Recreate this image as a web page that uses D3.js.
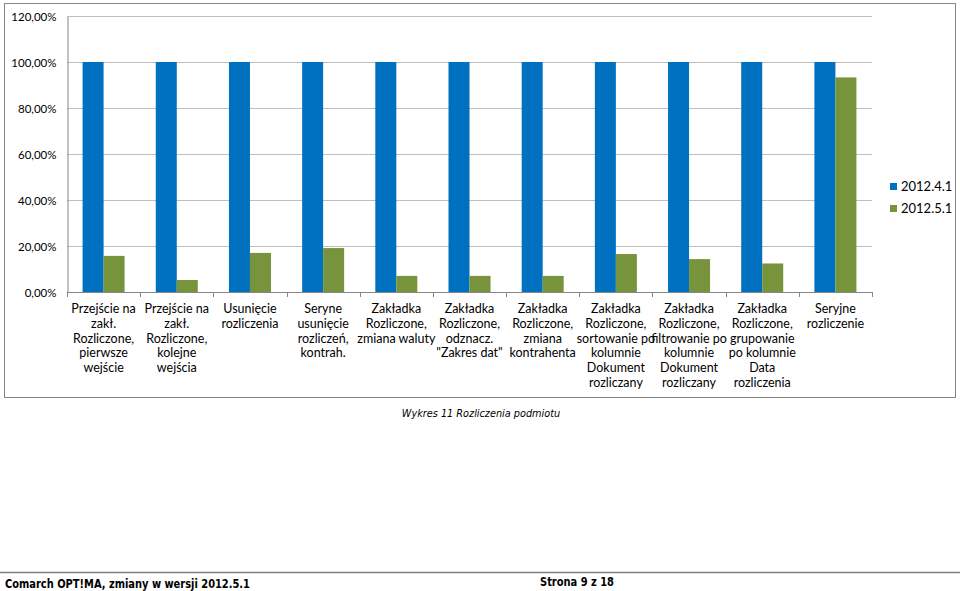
<!DOCTYPE html>
<html><head><meta charset="utf-8">
<script src="https://cdn.jsdelivr.net/npm/d3@7"></script>
<style>body{margin:0;background:#fff}svg{display:block}</style>
</head><body>
<svg id="c" width="960" height="591"></svg>
<script>
const categories = [
  "Przejście na\nzakł.\nRozliczone,\npierwsze\nwejście",
  "Przejście na\nzakł.\nRozliczone,\nkolejne\nwejścia",
  "Usunięcie\nrozliczenia",
  "Seryne\nusunięcie\nrozliczeń,\nkontrah.",
  "Zakładka\nRozliczone,\nzmiana waluty",
  "Zakładka\nRozliczone,\nodznacz.\n\"Zakres dat\"",
  "Zakładka\nRozliczone,\nzmiana\nkontrahenta",
  "Zakładka\nRozliczone,\nsortowanie po\nkolumnie\nDokument\nrozliczany",
  "Zakładka\nRozliczone,\nfiltrowanie po\nkolumnie\nDokument\nrozliczany",
  "Zakładka\nRozliczone,\ngrupowanie\npo kolumnie\nData\nrozliczenia",
  "Seryjne\nrozliczenie"
];
const seriesNames = ["2012.4.1", "2012.5.1"];
const values2012_4_1 = [100, 100, 100, 100, 100, 100, 100, 100, 100, 100, 100];
const values2012_5_1 = [15.7, 5.2, 17.0, 19.1, 7.0, 7.0, 7.0, 16.5, 14.3, 12.4, 93.3];
const yTicks = [0, 20, 40, 60, 80, 100, 120];
const colors = ["#0070C0", "#77933C"];

const svg = d3.select("#c");
const font = "Lato, 'Open Sans', sans-serif";
const docFont = "'DejaVu Sans Condensed', 'DejaVu Sans', sans-serif";

// chart frame
svg.append("rect").attr("x", 4.5).attr("y", 3.5).attr("width", 951).attr("height", 394)
  .attr("fill", "#fff").attr("stroke", "#868686").attr("stroke-width", 1);

const L = 67, R = 872, T = 16, B = 292;
const x = d3.scaleBand().domain(d3.range(categories.length)).range([L, R]).paddingInner(0).paddingOuter(0);
const inner = d3.scaleBand().domain([0, 1]).range([0, 42]);
const y = d3.scaleLinear().domain([0, 120]).range([B, T]);

// gridlines
svg.append("g").selectAll("line").data(yTicks.filter(d => d > 0)).join("line")
  .attr("x1", L).attr("x2", R).attr("y1", d => Math.round(y(d)) + 0.5).attr("y2", d => Math.round(y(d)) + 0.5)
  .attr("stroke", "#bfbfbf").attr("stroke-width", 1);

// y axis
const yAxis = d3.axisLeft(y).tickValues(yTicks).tickSize(0).tickPadding(11)
  .tickFormat(d => d3.format(".2f")(d).replace(".", ",") + "%");
const gy = svg.append("g").attr("transform", `translate(${L + 0.5},0.5)`).call(yAxis);
gy.select(".domain").attr("stroke", "#868686");
gy.selectAll("text").attr("font-family", font).attr("font-size", 11.5).attr("fill", "#000");

// bars
const series = [values2012_4_1, values2012_5_1];
series.forEach((vals, si) => {
  svg.append("g").selectAll("rect").data(vals).join("rect")
    .attr("x", (d, i) => x(i) + (x.bandwidth() - 42) / 2 + inner(si))
    .attr("width", inner.bandwidth())
    .attr("y", d => y(d)).attr("height", d => B - y(d))
    .attr("fill", colors[si]);
});

// x axis
svg.append("line").attr("x1", L).attr("x2", R).attr("y1", B + 0.5).attr("y2", B + 0.5).attr("stroke", "#868686");
svg.append("g").selectAll("line").data(d3.range(categories.length + 1)).join("line")
  .attr("x1", i => Math.round(L + i * x.bandwidth()) + 0.5).attr("x2", i => Math.round(L + i * x.bandwidth()) + 0.5)
  .attr("y1", B).attr("y2", B + 5).attr("stroke", "#868686");

const labels = svg.append("g").selectAll("text").data(categories).join("text")
  .attr("font-family", font).attr("font-size", 12.5).attr("fill", "#000").attr("text-anchor", "middle")
  .attr("transform", (d, i) => `translate(${x(i) + x.bandwidth() / 2},${B + 21})`);
labels.each(function(d) {
  d3.select(this).selectAll("tspan").data(d.split("\n")).join("tspan")
    .attr("x", 0).attr("dy", (t, j) => j === 0 ? 0 : 14.8).text(t => t);
});

// legend
const lg = svg.append("g").attr("transform", "translate(890,183)");
seriesNames.forEach((n, i) => {
  lg.append("rect").attr("x", 0).attr("y", i * 22).attr("width", 7).attr("height", 7).attr("fill", colors[i]);
  lg.append("text").attr("x", 11).attr("y", i * 22 + 8).attr("font-family", font).attr("font-size", 13)
    .attr("fill", "#000").text(n);
});

// caption
svg.append("text").attr("x", 481).attr("y", 417).attr("text-anchor", "middle")
  .attr("font-family", docFont).attr("font-style", "italic")
  .attr("font-size", 10.8).attr("fill", "#000").text("Wykres 11 Rozliczenia podmiotu");

// footer
svg.append("line").attr("x1", 0).attr("x2", 960).attr("y1", 572.5).attr("y2", 572.5).attr("stroke", "#808080").attr("stroke-width", 1.5);
svg.append("text").attr("x", 5).attr("y", 588).attr("font-family", docFont)
  .attr("font-weight", "bold").attr("font-size", 12).attr("textLength", 245).attr("lengthAdjust", "spacingAndGlyphs")
  .attr("fill", "#000").text("Comarch OPT!MA, zmiany w wersji 2012.5.1");
svg.append("text").attr("x", 540).attr("y", 586).attr("font-family", docFont)
  .attr("font-weight", "bold").attr("font-size", 12).attr("textLength", 74).attr("lengthAdjust", "spacingAndGlyphs")
  .attr("fill", "#000").text("Strona 9 z 18");
</script>
</body></html>
